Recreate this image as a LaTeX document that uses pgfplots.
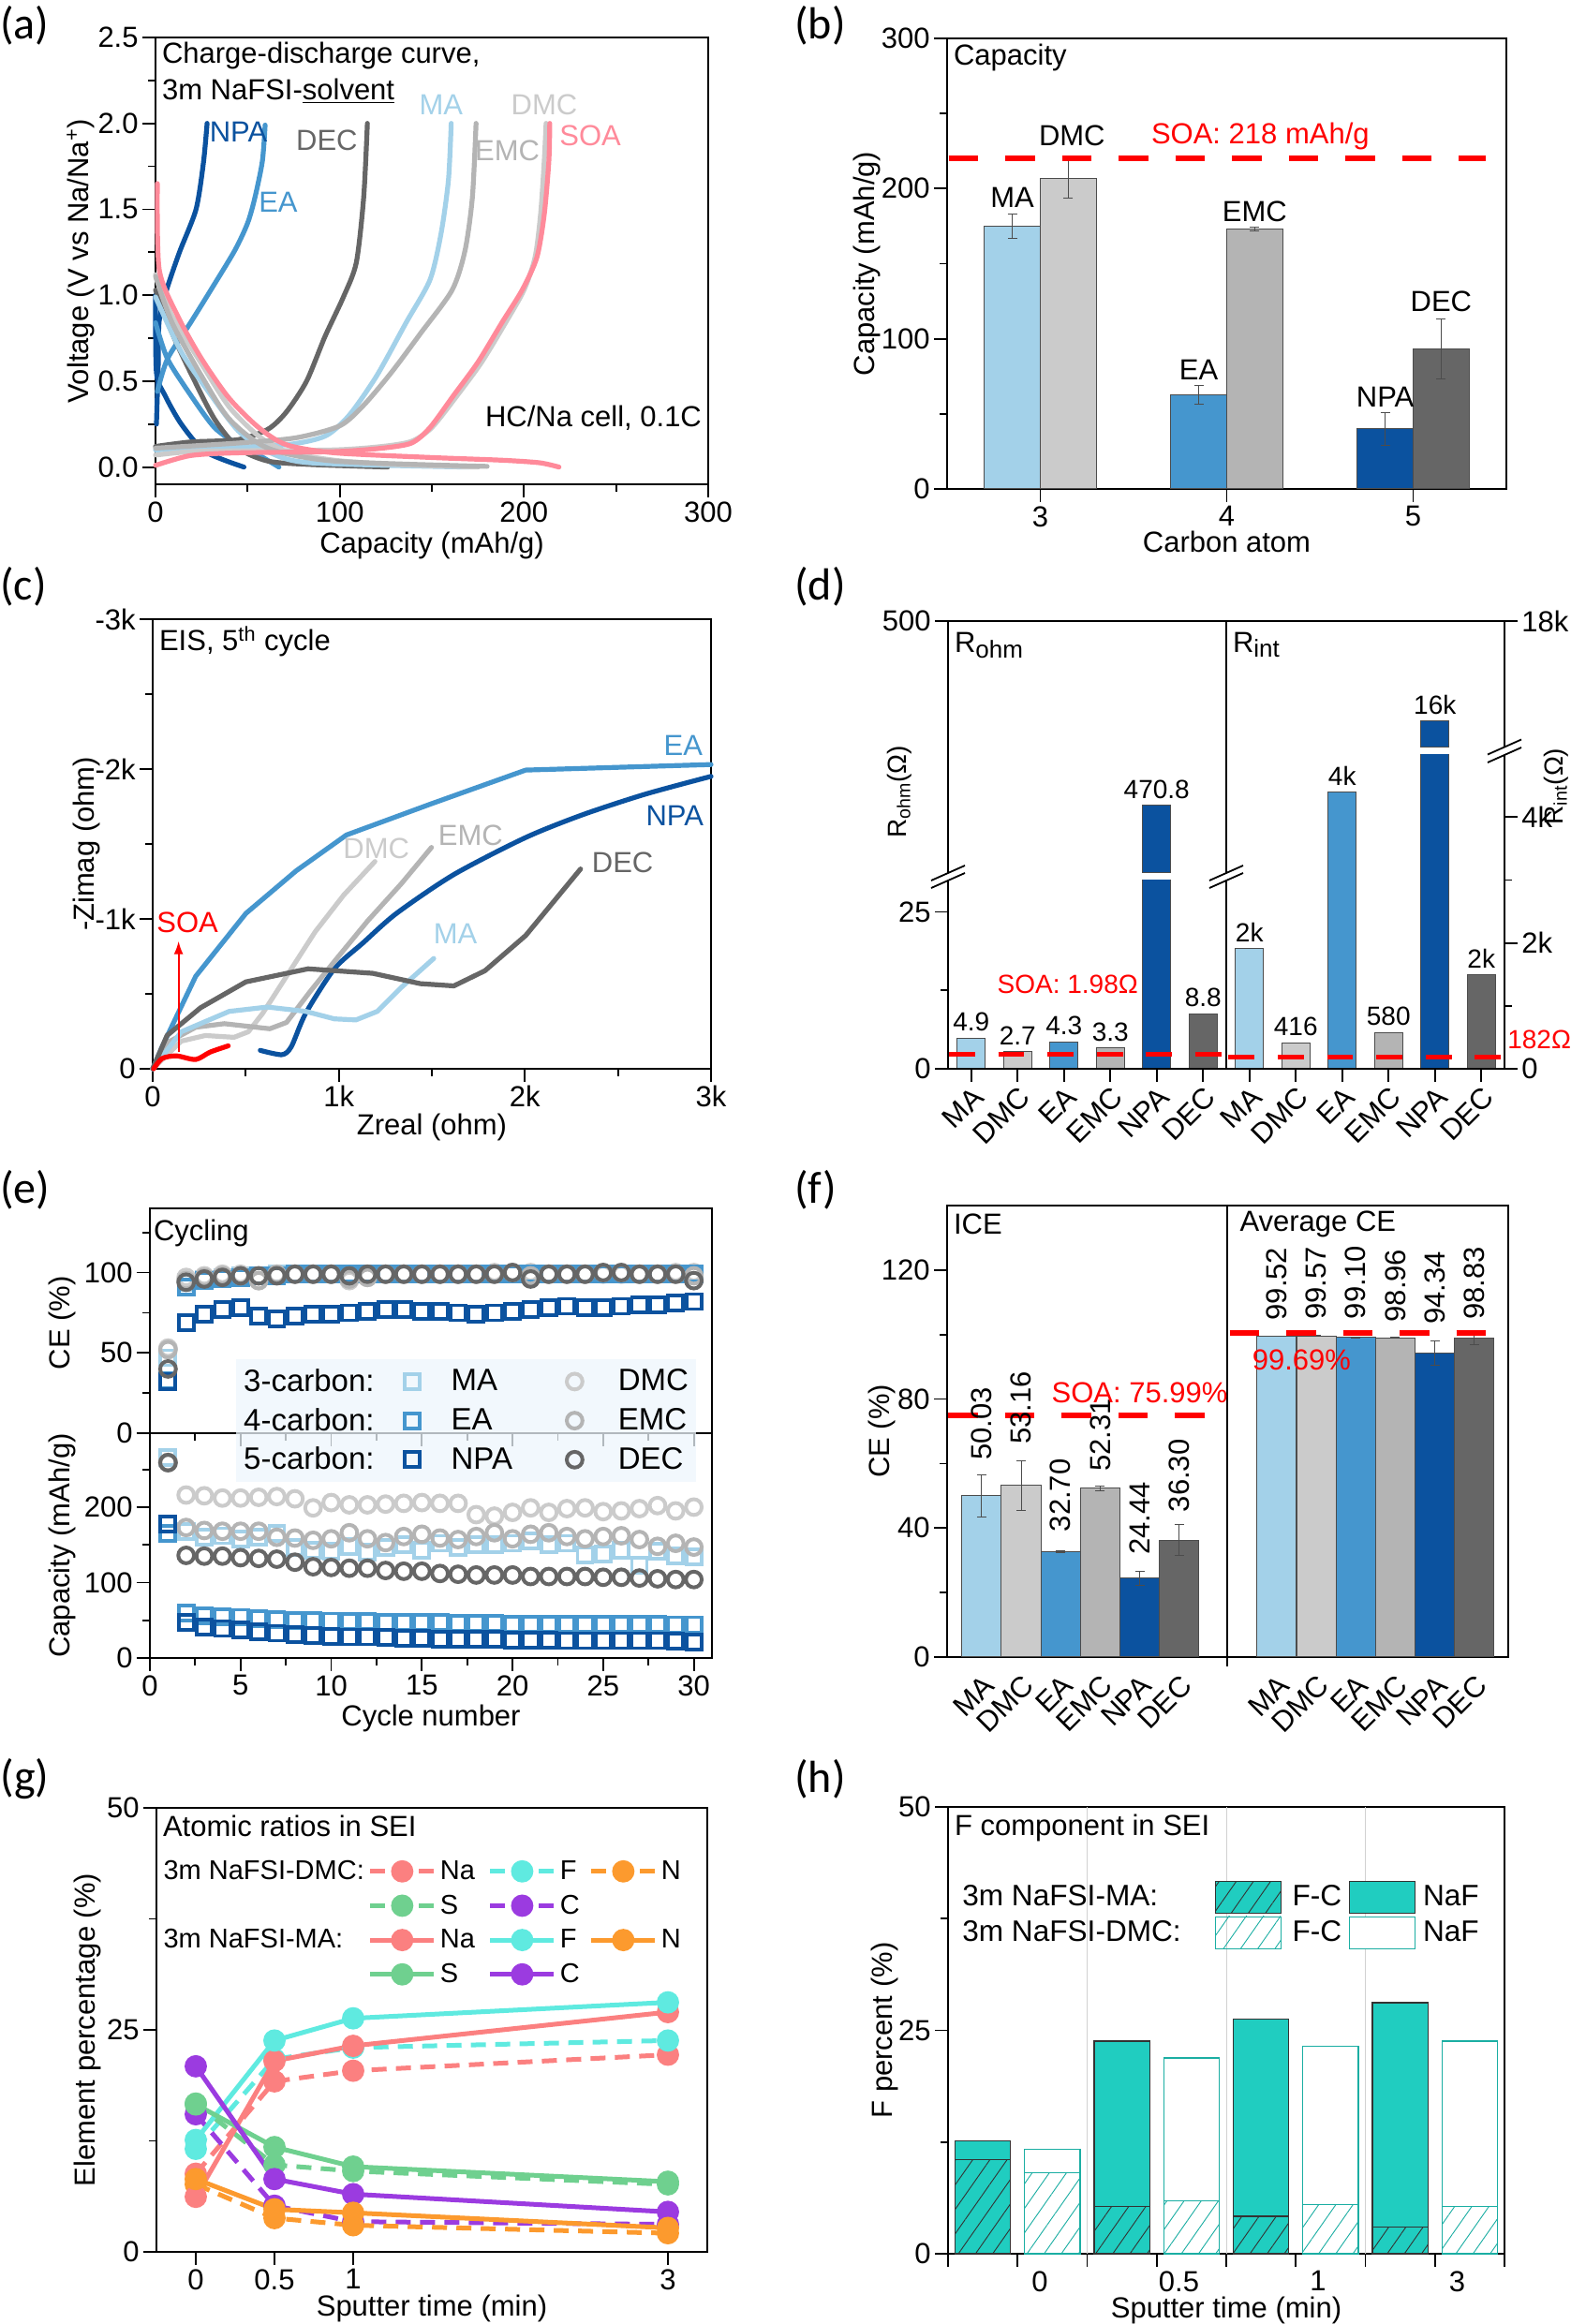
\documentclass[border=0pt]{standalone}
\usepackage{fontspec}
\setmainfont{Liberation Sans}
\newfontfamily\panelfont{Carlito}
\usepackage{pgfplots}
\usepackage{pgfplotstable}
\pgfplotsset{compat=1.18}
\usetikzlibrary{patterns.meta,arrows.meta}

\definecolor{cMA}{HTML}{A3D1E9}
\definecolor{cDMC}{HTML}{CBCBCB}
\definecolor{cEA}{HTML}{4596CE}
\definecolor{cEMC}{HTML}{B4B4B4}
\definecolor{cNPA}{HTML}{0B529F}
\definecolor{cDEC}{HTML}{666666}
\definecolor{cSOA}{HTML}{FF8A9A}
\definecolor{tint}{HTML}{EDF6FD}
\definecolor{cNa}{HTML}{FB8080}
\definecolor{cF}{HTML}{5FEAE0}
\definecolor{cN}{HTML}{FC9A2E}
\definecolor{cS}{HTML}{6FD08F}
\definecolor{cC}{HTML}{9B3BE0}
\definecolor{teal2}{HTML}{20CDC0}

\newcommand\fs{\fontsize{15.5}{18}\selectfont}
\newcommand\fd{\fontsize{14}{16}\selectfont}
\newcommand\sub[1]{\raisebox{-.35ex}{\fontsize{13}{14}\selectfont #1}}
\newcommand\bw{15pt}
\pgfplotsset{
  base/.style={scale only axis, clip=false,
    axis line style={line width=1.1pt},
    tick style={black, line width=.9pt},
    tick align=outside, xtick pos=bottom, ytick pos=left,
    major tick length=7pt, minor tick length=4pt,
    tick label style={font=\fs, inner sep=2pt},
    label style={font=\fs},
    scaled ticks=false,
    /pgf/number format/assume math mode=true,
    /pgf/number format/1000 sep={}},
  xl/.style={every axis x label/.style={at={(rel axis cs:.5,0)},anchor=center,yshift=#1}},
  yl/.style={every axis y label/.style={at={(rel axis cs:0,.5)},anchor=center,xshift=#1,rotate=90}},
  crv/.style={line width=2.6pt, line cap=round, line join=round, smooth, tension=.45, color=#1, forget plot},
  sq/.style={only marks, mark=square, mark size=4pt, color=#1, line width=1.9pt},
  ci/.style={only marks, mark=o, mark size=4.2pt, color=#1, line width=2pt},
  gs/.style={color=#1, line width=2.5pt, mark=*, mark size=4.7pt, mark options={solid, fill=#1, draw=#1}},
  gd/.style={gs=#1, dash pattern=on 8pt off 5pt},
  soa/.style={red, line width=3pt, dash pattern=on 15.75pt off 14.5pt, forget plot},
}
\newcommand\dobar[3]{\addplot[ybar, bar width=\bw, fill=#3, draw=black!70, line width=.5pt, forget plot] coordinates {(#1,#2)};}
\newcommand\ebar[4]{\addplot[ybar, bar width=\bw, fill=#4, draw=black!70, line width=.5pt, forget plot,
  error bars/.cd, y dir=both, y explicit, error bar style={black!70, line width=.5pt},
  error mark options={rotate=90, mark size=2.5pt, black!70, line width=.5pt}] coordinates {(#1,#2) +- (0,#3)};}

% panel (e)
\pgfplotstableread{
c MA DMC EA EMC NPA DEC
1 47 53 33 52 32 40
2 94 97 91 95 69 94
3 96 98 95 97 74 96
4 97 99 96 98 77 97
5 98 99 97 98 78 98
6 98 95 98 95 73 98
7 99 99 98 99 71 98
8 99 99 99 99 73 99
9 99 99 99 99 74 99
10 99 99 99 99 74 99
11 99 95 99 96 75 98
12 99 97 99 97 76 99
13 99 99 99 99 77 99
14 99 99 99 99 77 99
15 99 99 99 99 76 99
16 99 99 99 99 76 99
17 99 99 99 99 75 99
18 99 99 99 99 74 99
19 99 100 99 99 75 99
20 99 100 99 100 76 100
21 99 100 99 98 77 96
22 99 99 99 99 78 99
23 99 99 99 99 79 99
24 99 99 99 99 78 99
25 99 99 99 100 78 100
26 99 99 99 100 79 100
27 99 99 99 99 80 99
28 99 99 99 99 80 99
29 99 100 99 99 81 99
30 99 100 99 98 82 95
}\cedata
\pgfplotstableread{
c MA DMC EA EMC NPA DEC
1 266 259 165 259 178 259
2 168 216 60 173 47 136
3 160 215 56 169 41 135
4 162 212 55 168 39 135
5 158 212 54 168 37 133
6 160 213 52 168 35 132
7 165 214 51 160 33 131
8 147 211 50 159 31 127
9 143 199 50 156 30 121
10 142 206 49 158 29 120
11 148 203 48 166 28 119
12 140 203 48 158 28 119
13 147 204 47 153 27 116
14 150 205 47 161 26 115
15 143 206 47 164 26 115
16 152 205 47 159 25 112
17 147 205 46 157 25 111
18 150 190 46 161 25 110
19 150 188 46 166 25 110
20 152 193 45 158 24 110
21 155 199 45 164 24 108
22 150 193 45 166 24 108
23 152 198 45 161 23 108
24 137 199 45 158 23 108
25 138 194 45 161 23 107
26 143 195 45 162 23 107
27 123 198 45 157 23 106
28 142 202 45 148 23 105
29 135 195 44 152 22 104
30 134 200 44 147 21 104
}\capdata
% panel (g)
\pgfplotstableread{
t Na F N S C dNa dF dN dS dC
0 6.2 12.6 8.2 16.6 20.9 8.8 11.6 7.6 16.7 15.5
0.5 21.5 23.8 4.8 11.8 8.2 19.2 21.7 3.8 9.8 5.2
1 23.2 26.3 4.4 9.6 6.5 20.4 23.0 3.0 9.1 3.4
3 27.0 28.1 2.7 7.9 4.5 22.2 23.8 2.1 7.6 3.1
}\sei
% panel (h)
\pgfplotstableread{
x fc total
0.5 10.5 12.6
2.5 5.3 23.8
4.5 4.2 26.3
6.5 3.0 28.1
}\hma
\pgfplotstableread{
x fc total
1.5 9.1 11.7
3.5 5.9 21.9
5.5 5.5 23.2
7.5 5.3 23.8
}\hdmc

\begin{document}
\begin{tikzpicture}[font=\fs]
\useasboundingbox (0pt,0pt) rectangle (838.5pt,1240.5pt);

% ---- (a)
\begin{axis}[base, at={(83pt,982pt)}, width=295pt, height=238.5pt,
  xmin=0, xmax=300, ymin=-0.1, ymax=2.5,
  xtick={0,100,200,300}, minor xtick={50,150,250},
  ytick={0,0.5,1,1.5,2,2.5}, minor ytick={0.25,0.75,1.25,1.75,2.25},
  yticklabels={0.0,0.5,1.0,1.5,2.0,2.5},
  xl=-33pt, yl=-40pt, xlabel={Capacity (mAh/g)}, ylabel={Voltage (V vs Na/Na\textsuperscript{+})}]
\addplot[crv=cNPA] coordinates {(0.5,0.25)(1.5,0.6)(2,0.85)(6,1.03)(13,1.25)(22,1.5)(26,1.77)(28,2.0)};
\addplot[crv=cNPA] coordinates {(0,1.0)(0.5,0.55)(5,0.42)(14,0.25)(27,0.09)(48,0)};
\addplot[crv=cEA] coordinates {(1,0.44)(6.5,0.63)(19,0.84)(30,1.03)(43,1.26)(50,1.42)(54,1.57)(58,1.78)(59.5,1.99)};
\addplot[crv=cEA] coordinates {(0,0.84)(6.5,0.63)(19,0.42)(32,0.23)(45,0.13)(56,0.07)(67,0)};
\addplot[crv=cDEC] coordinates {(0,0.12)(19,0.146)(45,0.16)(61,0.22)(71,0.32)(82,0.5)(92,0.76)(102,0.99)(109,1.19)(113,1.57)(115,2.0)};
\addplot[crv=cDEC] coordinates {(0,1.03)(9,0.78)(19,0.55)(32,0.28)(45,0.11)(61,0.035)(84,0.015)(126,0)};
\addplot[crv=cMA] coordinates {(0,0.1)(32,0.11)(71,0.13)(92,0.18)(105,0.3)(120,0.53)(136,0.84)(149,1.09)(155,1.36)(159,1.67)(160.5,2.0)};
\addplot[crv=cMA] coordinates {(0,0.99)(14,0.67)(30,0.42)(45,0.21)(61,0.09)(84,0.025)(170,0)};
\addplot[crv=cDMC] coordinates {(0,0.07)(19,0.09)(45,0.095)(97,0.1)(123,0.12)(139,0.15)(150,0.23)(164,0.42)(177,0.61)(190,0.84)(200,1.03)(206,1.22)(209,1.47)(211,1.78)(212,2.0)};
\addplot[crv=cDMC] coordinates {(0,1.12)(9,0.88)(25,0.6)(40,0.35)(56,0.18)(71,0.09)(97,0.04)(130,0.015)(175,0)};
\addplot[crv=cEMC] coordinates {(0,0.11)(45,0.14)(76,0.17)(100,0.24)(113,0.36)(128,0.55)(144,0.78)(161,1.03)(168,1.26)(172,1.57)(174,2.0)};
\addplot[crv=cEMC] coordinates {(0,1.11)(9,0.84)(25,0.53)(40,0.28)(61,0.11)(97,0.035)(180,0.004)};
\addplot[crv=cSOA] coordinates {(0,0.01)(19,0.067)(45,0.083)(97,0.09)(123,0.11)(139,0.14)(149,0.23)(162,0.42)(175,0.61)(188,0.84)(199,1.03)(207,1.22)(211,1.47)(213.5,1.78)(214,2.0)};
\addplot[crv=cSOA] coordinates {(1,1.65)(2,1.15)(12,0.88)(25,0.63)(40,0.4)(56,0.23)(71,0.13)(97,0.083)(149,0.056)(188,0.04)(208.5,0.025)(219,0)};
\node[anchor=west] at (rel axis cs:0,.96) {Charge-discharge curve,};
\node[anchor=west] at (rel axis cs:0,.88) {3m NaFSI-\underline{solvent}};
\node[anchor=east] at (rel axis cs:1,.149) {HC/Na cell, 0.1C};
\node[cMA] at (axis cs:155,2.11) {MA};
\node[cDMC] at (axis cs:211,2.11) {DMC};
\node[cNPA] at (axis cs:45,1.95) {NPA};
\node[cDEC] at (axis cs:93,1.9) {DEC};
\node[cEMC] at (axis cs:191,1.84) {EMC};
\node[cSOA] at (axis cs:236,1.93) {SOA};
\node[cEA] at (axis cs:66.6,1.54) {EA};
\end{axis}

% ---- (b)
\renewcommand\bw{30pt}
\begin{axis}[base, at={(505.5pt,979.5pt)}, width=298.5pt, height=240.5pt,
  xmin=2.5, xmax=5.5, ymin=0, ymax=300,
  xtick={3,4,5}, ytick={0,100,200,300}, minor ytick={50,150,250},
  xl=-28pt, yl=-43pt, xlabel={Carbon atom}, ylabel={Capacity (mAh/g)}]
\ebar{2.85}{175}{8}{cMA}
\ebar{3.15}{206.5}{13}{cDMC}
\ebar{3.85}{62.7}{6}{cEA}
\ebar{4.15}{173}{1}{cEMC}
\ebar{4.85}{40}{10.7}{cNPA}
\ebar{5.15}{93.5}{20}{cDEC}
\addplot[soa] coordinates {(2.508,220)(5.39,220)};
\node at (axis cs:2.85,194) {MA};
\node at (axis cs:3.17,235) {DMC};
\node at (axis cs:4.15,185) {EMC};
\node at (axis cs:3.85,79) {EA};
\node at (axis cs:4.85,61.5) {NPA};
\node at (axis cs:5.15,125) {DEC};
\node[red] at (axis cs:4.18,235) {SOA: 218 mAh/g};
\node[anchor=west] at (rel axis cs:0,.958) {Capacity};
\end{axis}

% ---- (c)
\begin{axis}[base, at={(81.5pt,670pt)}, width=298pt, height=240pt,
  xmin=0, xmax=3000, ymin=0, ymax=3000,
  xtick={0,1000,2000,3000}, xticklabels={0,1k,2k,3k}, minor xtick={500,1500,2500},
  ytick={0,1000,2000,3000}, yticklabels={0,-1k,-2k,-3k}, minor ytick={500,1500,2500},
  xl=-31pt, yl=-35.5pt, xlabel={Zreal (ohm)}, ylabel={-Zimag (ohm)}]
\addplot[crv=cEA, sharp plot] coordinates {(0,0)(51,148)(231,617)(501,1037)(771,1321)(1041,1560)(1490,1765)(2004,1993)(3000,2030)};
\addplot[crv=cNPA] coordinates {(578,123)(694,94)(745,148)(822,370)(976,667)(1130,840)(1310,1037)(1618,1296)(2004,1543)(2312,1696)(2646,1832)(3000,1951)};
\addplot[crv=cDMC, sharp plot] coordinates {(0,0)(154,185)(283,222)(437,210)(514,247)(591,370)(719,617)(873,914)(1027,1160)(1194,1383)};
\addplot[crv=cEMC, sharp plot] coordinates {(0,0)(77,173)(231,277)(385,301)(629,267)(719,309)(848,519)(976,716)(1156,988)(1336,1235)(1498,1477)};
\addplot[crv=cMA, sharp plot] coordinates {(0,0)(154,247)(411,383)(616,412)(822,383)(976,333)(1092,326)(1207,383)(1336,543)(1510,736)};
\addplot[crv=cDEC, sharp plot] coordinates {(0,0)(77,222)(257,407)(501,580)(835,667)(1182,637)(1438,568)(1618,553)(1785,654)(2004,889)(2299,1333)};
\addplot[crv=red] coordinates {(5,0)(51,69)(128,86)(231,62)(308,111)(406,153)};
\draw[-{Latex[length=7pt,width=5pt]}, red, line width=.9pt] (axis cs:139,111) -- (axis cs:139,852);
\node[anchor=west] at (rel axis cs:0,.95) {EIS, 5\textsuperscript{th} cycle};
\node[cEA] at (axis cs:2851,2160) {EA};
\node[cNPA] at (axis cs:2805,1691) {NPA};
\node[cEMC] at (axis cs:1708,1560) {EMC};
\node[cDMC] at (axis cs:1202,1469) {DMC};
\node[cDEC] at (axis cs:2525,1378) {DEC};
\node[cMA] at (axis cs:1626,901) {MA};
\node[red] at (axis cs:187,975) {SOA};
\end{axis}

% ---- (d) left, lower part
\renewcommand\bw{15pt}
\pgfplotsset{dbase/.style={base, clip=true, axis line style={draw=none},
  xmin=.5, xmax=6.5, width=148.5pt,
  xtick={1,...,6}, xticklabels={MA,DMC,EA,EMC,NPA,DEC},
  xticklabel style={rotate=45, anchor=north east, inner sep=1pt}},
  dup/.style={xtick=\empty}}
\begin{axis}[dbase, at={(506pt,670pt)}, height=100.5pt, ymin=0, ymax=30,
  ytick={0,25}, minor ytick={12.5},
  ylabel={\fd R\textsubscript{ohm}(Ω)},
  every axis y label/.style={at={(rel axis cs:0,1.47)},anchor=center,xshift=-26pt,rotate=90},
  extra description/.code={
    \draw[line width=1.1pt] (rel axis cs:0,0)--(rel axis cs:1,0);
    \draw[line width=.9pt] (rel axis cs:0,0)--(rel axis cs:0,1);
    \draw[line width=.9pt] (rel axis cs:1,0)--(rel axis cs:1,1);
    \draw[line width=.9pt] ([xshift=-9pt,yshift=-4pt]rel axis cs:0,1)--([xshift=9pt,yshift=4pt]rel axis cs:0,1);
    \draw[line width=.9pt] ([xshift=-9pt,yshift=-4pt]rel axis cs:1,1)--([xshift=9pt,yshift=4pt]rel axis cs:1,1);
  }]
\dobar{1}{4.9}{cMA}
\dobar{2}{2.7}{cDMC}
\dobar{3}{4.3}{cEA}
\dobar{4}{3.3}{cEMC}
\dobar{5}{470.8}{cNPA}
\dobar{6}{8.8}{cDEC}
\addplot[soa, line width=2.6pt, dash pattern=on 13.9pt off 12.4pt] coordinates {(.52,2.3)(6.41,2.3)};
\node[anchor=south,font=\fd] at (axis cs:1,4.9) {4.9};
\node[anchor=south,font=\fd] at (axis cs:2,2.7) {2.7};
\node[anchor=south,font=\fd] at (axis cs:3,4.3) {4.3};
\node[anchor=south,font=\fd] at (axis cs:4,3.3) {3.3};
\node[anchor=south,font=\fd] at (axis cs:6,8.8) {8.8};
\node[red,font=\fd] at (axis cs:3.08,13.5) {SOA: 1.98Ω};
\end{axis}
% (d) left, upper part
\begin{axis}[dbase, dup, at={(506pt,774.5pt)}, height=134.5pt, ymin=460, ymax=500,
  ytick={500},
  extra description/.code={
    \draw[line width=1.1pt] (rel axis cs:0,1)--(rel axis cs:1,1);
    \draw[line width=.9pt] (rel axis cs:0,0)--(rel axis cs:0,1);
    \draw[line width=.9pt] (rel axis cs:1,0)--(rel axis cs:1,1);
    \draw[line width=.9pt] ([xshift=-9pt,yshift=-4pt]rel axis cs:0,0)--([xshift=9pt,yshift=4pt]rel axis cs:0,0);
    \draw[line width=.9pt] ([xshift=-9pt,yshift=-4pt]rel axis cs:1,0)--([xshift=9pt,yshift=4pt]rel axis cs:1,0);
  }]
\dobar{5}{470.8}{cNPA}
\node[anchor=south,font=\fd] at (axis cs:5,470.8) {470.8};
\node[anchor=west] at (rel axis cs:0,.904) {R\sub{ohm}};
\end{axis}
% (d) right, lower part
\begin{axis}[dbase, at={(654.5pt,670pt)}, height=167.5pt, ymin=0, ymax=4988,
  ytick pos=right, yticklabel pos=right,
  ytick={0,2000,4000}, yticklabels={0,2k,4k}, minor ytick={1000,3000},
  ylabel={\fd R\textsubscript{int}(Ω)},
  every axis y label/.style={at={(rel axis cs:1,.9)},anchor=center,xshift=27.5pt,rotate=90},
  extra description/.code={
    \draw[line width=1.1pt] (rel axis cs:0,0)--(rel axis cs:1,0);
    \draw[line width=.9pt] (rel axis cs:1,0)--(rel axis cs:1,1);
    \draw[line width=.9pt] ([xshift=-9pt,yshift=-4pt]rel axis cs:1,1)--([xshift=9pt,yshift=4pt]rel axis cs:1,1);
    \node[red,font=\fd] at (axis cs:7.25,470) {182Ω};
  }]
\dobar{1}{1910}{cMA}
\dobar{2}{416}{cDMC}
\dobar{3}{4400}{cEA}
\dobar{4}{580}{cEMC}
\dobar{5}{16000}{cNPA}
\dobar{6}{1500}{cDEC}
\addplot[soa, line width=2.6pt, dash pattern=on 13.9pt off 12.4pt] coordinates {(.55,182)(6.45,182)};
\node[anchor=south,font=\fd] at (axis cs:1,1910) {2k};
\node[anchor=south,font=\fd] at (axis cs:2,416) {416};
\node[anchor=south,font=\fd] at (axis cs:3,4400) {4k};
\node[anchor=south,font=\fd] at (axis cs:4,580) {580};
\node[anchor=south,font=\fd] at (axis cs:6,1500) {2k};
\end{axis}
% (d) right, upper part
\begin{axis}[dbase, dup, at={(654.5pt,841.75pt)}, height=67.25pt, ymin=15481, ymax=18000,
  ytick pos=right, yticklabel pos=right, ytick={18000}, yticklabels={18k},
  extra description/.code={
    \draw[line width=1.1pt] (rel axis cs:0,1)--(rel axis cs:1,1);
    \draw[line width=.9pt] (rel axis cs:1,0)--(rel axis cs:1,1);
    \draw[line width=.9pt] ([xshift=-9pt,yshift=-4pt]rel axis cs:1,0)--([xshift=9pt,yshift=4pt]rel axis cs:1,0);
  }]
\dobar{5}{16000}{cNPA}
\node[anchor=south,font=\fd] at (axis cs:5,16000) {16k};
\node[anchor=west] at (rel axis cs:0,.81) {R\sub{int}};
\end{axis}

% ---- (e) upper
\begin{axis}[base, at={(80pt,475.5pt)}, width=300pt, height=120pt,
  xmin=0, xmax=31, ymin=0, ymax=140,
  xtick={0,5,...,30}, xticklabels={}, minor xtick={2.5,7.5,...,27.5},
  ytick={0,50,100}, minor ytick={25,75,125},
  ylabel={CE (\%)},
  every axis y label/.style={at={(rel axis cs:0,.49)},anchor=center,xshift=-47pt,rotate=90}]
\addplot[sq=cMA, forget plot] table[x=c,y=MA]{\cedata};
\addplot[ci=cDMC, forget plot] table[x=c,y=DMC]{\cedata};
\addplot[sq=cEA, forget plot] table[x=c,y=EA]{\cedata};
\addplot[ci=cEMC, forget plot] table[x=c,y=EMC]{\cedata};
\addplot[sq=cNPA, forget plot] table[x=c,y=NPA]{\cedata};
\addplot[ci=cDEC, forget plot] table[x=c,y=DEC]{\cedata};
\node[anchor=west] at (rel axis cs:-.005,.89) {Cycling};
\end{axis}
% (e) lower
\begin{axis}[base, at={(80pt,355.5pt)}, width=300pt, height=120pt,
  xmin=0, xmax=31, ymin=0, ymax=298,
  xtick={0,5,...,30}, minor xtick={2.5,7.5,...,27.5},
  ytick={0,100,200}, minor ytick={50,150,250},
  xl=-32pt, xlabel={Cycle number}, ylabel={Capacity (mAh/g)},
  every axis y label/.style={at={(rel axis cs:0,.5)},anchor=center,xshift=-47pt,rotate=90},
  legend columns=3, legend cell align=left,
  legend style={at={(.153,1.329)}, anchor=north west, draw=none, fill=tint, fill opacity=.75, text opacity=1,
    font=\fontsize{16.5}{18}\selectfont, inner xsep=2pt, inner ysep=3pt, row sep=3.4pt,
    /tikz/column 2/.style={column sep=14pt}, /tikz/column 3/.style={column sep=15pt},
    /tikz/column 4/.style={column sep=27pt}, /tikz/column 5/.style={column sep=17pt}}]
\addplot[sq=cMA, forget plot] table[x=c,y=MA]{\capdata};
\addplot[ci=cDMC, forget plot] table[x=c,y=DMC]{\capdata};
\addplot[sq=cEA, forget plot] table[x=c,y=EA]{\capdata};
\addplot[ci=cEMC, forget plot] table[x=c,y=EMC]{\capdata};
\addplot[sq=cNPA, forget plot] table[x=c,y=NPA]{\capdata};
\addplot[ci=cDEC, forget plot] table[x=c,y=DEC]{\capdata};
\addlegendimage{empty legend}\addlegendentry{3-carbon:}
\addlegendimage{sq=cMA}\addlegendentry{MA}
\addlegendimage{ci=cDMC}\addlegendentry{DMC\hspace{20pt}}
\addlegendimage{empty legend}\addlegendentry{4-carbon:}
\addlegendimage{sq=cEA}\addlegendentry{EA}
\addlegendimage{ci=cEMC}\addlegendentry{EMC}
\addlegendimage{empty legend}\addlegendentry{5-carbon:}
\addlegendimage{sq=cNPA}\addlegendentry{NPA}
\addlegendimage{ci=cDEC}\addlegendentry{DEC}
\end{axis}

% ---- (f)
\renewcommand\bw{21pt}
\begin{axis}[base, at={(505.5pt,356pt)}, width=299.5pt, height=241pt,
  xmin=.127, xmax=14.33, ymin=0, ymax=140,
  xtick={1,2,3,4,5,6,8.47,9.47,10.47,11.47,12.47,13.47},
  xticklabels={MA,DMC,EA,EMC,NPA,DEC,MA,DMC,EA,EMC,NPA,DEC},
  xticklabel style={rotate=45, anchor=north east, inner sep=1pt},
  xtick style={draw=none},
  ytick={0,40,80,120}, minor ytick={20,60,100},
  ylabel={CE (\%)},
  every axis y label/.style={at={(rel axis cs:0,.5)},anchor=center,xshift=-35pt,rotate=90}]
\ebar{1}{50.03}{6.5}{cMA}
\ebar{2}{53.16}{7.7}{cDMC}
\ebar{3}{32.7}{.3}{cEA}
\ebar{4}{52.31}{.7}{cEMC}
\ebar{5}{24.44}{2.2}{cNPA}
\ebar{6}{36.3}{4.9}{cDEC}
\ebar{8.47}{99.52}{.1}{cMA}
\ebar{9.47}{99.57}{.1}{cDMC}
\ebar{10.47}{99.1}{.1}{cEA}
\ebar{11.47}{98.96}{.1}{cEMC}
\ebar{12.47}{94.34}{3.8}{cNPA}
\ebar{13.47}{98.83}{2}{cDEC}
\addplot[soa] coordinates {(.16,74.8)(6.66,74.8)};
\addplot[soa] coordinates {(7.28,100.6)(13.77,100.6)};
\draw[line width=.9pt] ([yshift=-5pt]axis cs:7.215,0) -- (axis cs:7.215,140);
\node[rotate=90,anchor=west] at (axis cs:1,59) {50.03};
\node[rotate=90,anchor=west] at (axis cs:2,64) {53.16};
\node[rotate=90,anchor=west] at (axis cs:3,36.8) {32.70};
\node[rotate=90,anchor=west] at (axis cs:4,55.5) {52.31};
\node[rotate=90,anchor=west] at (axis cs:5,29.7) {24.44};
\node[rotate=90,anchor=west] at (axis cs:6,42.9) {36.30};
\node[rotate=90,anchor=west] at (axis cs:8.47,102.4) {99.52};
\node[rotate=90,anchor=west] at (axis cs:9.47,102.6) {99.57};
\node[rotate=90,anchor=west] at (axis cs:10.47,102.8) {99.10};
\node[rotate=90,anchor=west] at (axis cs:11.47,101.8) {98.96};
\node[rotate=90,anchor=west] at (axis cs:12.47,101.2) {94.34};
\node[rotate=90,anchor=west] at (axis cs:13.47,102.6) {98.83};
\node[red] at (axis cs:5,82) {SOA: 75.99\%};
\node[red] at (axis cs:9.1,92) {99.69\%};
\node[anchor=west] at (rel axis cs:0,.959) {ICE};
\node[anchor=west] at (rel axis cs:.51,.959) {Average CE};
\end{axis}

% ---- (g)
\begin{axis}[base, at={(83.5pt,38.5pt)}, width=294pt, height=237pt,
  xmin=-.25, xmax=3.25, ymin=0, ymax=50,
  xtick={0,.5,1,3}, xticklabels={0,0.5,1,3},
  ytick={0,25,50}, minor ytick={12.5,37.5},
  xl=-30pt, yl=-37pt, xlabel={Sputter time (min)}, ylabel={Element percentage (\%)},
  legend columns=4, legend cell align=left,
  legend image code/.code={\draw[mark repeat=2,mark phase=2,#1] plot coordinates {(0pt,0pt)(17pt,0pt)(34pt,0pt)};},
  legend style={at={(.002,.895)}, anchor=north west, draw=none, fill=none,
    font=\fontsize{14.5}{16}\selectfont, inner xsep=1pt, inner ysep=1pt, row sep=2.7pt,
    /tikz/column 4/.style={column sep=5pt}, /tikz/column 6/.style={column sep=3pt}}]
\addplot[gd=cNa, forget plot] table[x=t,y=dNa]{\sei};
\addplot[gd=cF, forget plot] table[x=t,y=dF]{\sei};
\addplot[gd=cS, forget plot] table[x=t,y=dS]{\sei};
\addplot[gd=cC, forget plot] table[x=t,y=dC]{\sei};
\addplot[gd=cN, forget plot] table[x=t,y=dN]{\sei};
\addplot[gs=cNa, forget plot] table[x=t,y=Na]{\sei};
\addplot[gs=cF, forget plot] table[x=t,y=F]{\sei};
\addplot[gs=cS, forget plot] table[x=t,y=S]{\sei};
\addplot[gs=cC, forget plot] table[x=t,y=C]{\sei};
\addplot[gs=cN, forget plot] table[x=t,y=N]{\sei};
\addlegendimage{empty legend}\addlegendentry{3m NaFSI-DMC:}
\addlegendimage{gd=cNa}\addlegendentry{Na}
\addlegendimage{gd=cF}\addlegendentry{F}
\addlegendimage{gd=cN}\addlegendentry{N}
\addlegendimage{empty legend}\addlegendentry{}
\addlegendimage{gd=cS}\addlegendentry{S}
\addlegendimage{gd=cC}\addlegendentry{C}
\addlegendimage{opacity=0}\addlegendentry{}
\addlegendimage{empty legend}\addlegendentry{3m NaFSI-MA:}
\addlegendimage{gs=cNa}\addlegendentry{Na}
\addlegendimage{gs=cF}\addlegendentry{F}
\addlegendimage{gs=cN}\addlegendentry{N}
\addlegendimage{empty legend}\addlegendentry{}
\addlegendimage{gs=cS}\addlegendentry{S}
\addlegendimage{gs=cC}\addlegendentry{C}
\addlegendimage{opacity=0}\addlegendentry{}
\node[anchor=west] at (rel axis cs:0,.958) {Atomic ratios in SEI};
\end{axis}

% ---- (h)
\begin{axis}[base, at={(506pt,37.5pt)}, width=297pt, height=238.5pt,
  xmin=0, xmax=8, ymin=0, ymax=50,
  xtick={0,...,8}, xticklabels={},
  extra x ticks={1.32,3.32,5.32,7.32}, extra x tick labels={0,0.5,1,3},
  extra x tick style={tick style={draw=none}},
  ytick={0,25,50}, minor ytick={12.5,37.5},
  xl=-30pt, yl=-34pt, xlabel={Sputter time (min)}, ylabel={F percent (\%)},
  legend columns=3, legend cell align=left,
  legend image code/.code={\draw[#1] (0pt,-8.5pt) rectangle (35pt,8.5pt);},
  legend style={at={(.015,.84)}, anchor=north west, draw=none, fill=none,
    font=\fontsize{15.8}{18}\selectfont, inner xsep=1pt, inner ysep=1pt, row sep=1.5pt,
    /tikz/column 2/.style={column sep=16pt}, /tikz/column 3/.style={column sep=4pt},
    /tikz/column 4/.style={column sep=2pt}, /tikz/column 5/.style={column sep=2pt}}]
\addplot[black!18, line width=.5pt, forget plot] coordinates {(2,0)(2,50)};
\addplot[black!18, line width=.5pt, forget plot] coordinates {(4,0)(4,50)};
\addplot[black!18, line width=.5pt, forget plot] coordinates {(6,0)(6,50)};
\addplot[ybar, bar width=29.6pt, fill=teal2, draw=black!80, line width=.6pt, forget plot] table[x=x,y=total]{\hma};
\addplot[ybar, bar width=29.6pt, fill=teal2, draw=black!80, line width=.6pt, forget plot, postaction={pattern={Lines[angle=55,distance=7.5pt,line width=.45pt]}, pattern color=black!80}] table[x=x,y=fc]{\hma};
\addplot[ybar, bar width=29.6pt, fill=white, draw=teal2!85!black, line width=.6pt, forget plot] table[x=x,y=total]{\hdmc};
\addplot[ybar, bar width=29.6pt, fill=white, draw=teal2!85!black, line width=.6pt, forget plot, postaction={pattern={Lines[angle=55,distance=7.5pt,line width=.45pt]}, pattern color=teal2!85!black}] table[x=x,y=fc]{\hdmc};
\addlegendimage{empty legend}\addlegendentry{3m NaFSI-MA:}
\addlegendimage{fill=teal2, draw=black!80, postaction={pattern={Lines[angle=55,distance=7.5pt,line width=.45pt]}, pattern color=black!80}}\addlegendentry{F-C}
\addlegendimage{fill=teal2, draw=black!80}\addlegendentry{NaF}
\addlegendimage{empty legend}\addlegendentry{3m NaFSI-DMC:}
\addlegendimage{draw=teal2!85!black, pattern={Lines[angle=55,distance=7.5pt,line width=.45pt]}, pattern color=teal2!85!black}\addlegendentry{F-C}
\addlegendimage{draw=teal2!85!black, fill=white}\addlegendentry{NaF}
\node[anchor=west] at (rel axis cs:0,.952) {F component in SEI};
\end{axis}

% panel letters
\tikzset{pl/.style={font=\panelfont\fontsize{24}{26}\selectfont, anchor=west, inner sep=0pt}}
\node[pl] at (0pt,1227pt) {(a)};
\node[pl] at (424pt,1227pt) {(b)};
\node[pl] at (0pt,927.5pt) {(c)};
\node[pl] at (424pt,927.5pt) {(d)};
\node[pl] at (0pt,605.5pt) {(e)};
\node[pl] at (424pt,605.5pt) {(f)};
\node[pl] at (0pt,291pt) {(g)};
\node[pl] at (424pt,291pt) {(h)};
\end{tikzpicture}
\end{document}
